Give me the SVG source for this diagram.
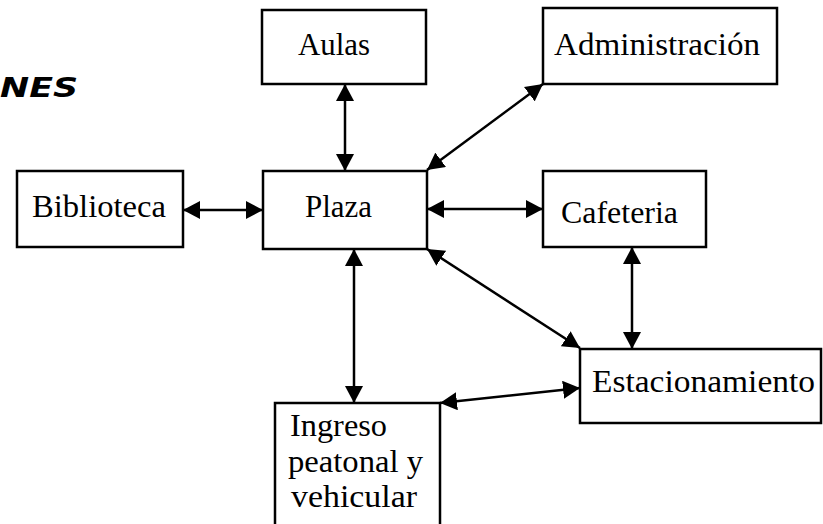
<svg xmlns="http://www.w3.org/2000/svg" width="823" height="524" viewBox="0 0 823 524">
<style>
.box{fill:#fff;stroke:#000;stroke-width:2.5}
.lbl{font-family:"Liberation Serif","Times New Roman",serif;font-size:31px;fill:#000}
.con{stroke:#000;stroke-width:2.5;fill:none;marker-start:url(#ah);marker-end:url(#ah)}
</style>
<defs>
<marker id="ah" viewBox="0 0 17 18" refX="17" refY="9" markerWidth="17" markerHeight="18" markerUnits="userSpaceOnUse" orient="auto-start-reverse">
<path d="M0,0 L17,9 L0,18 z" fill="#000"/>
</marker>
</defs>
<rect width="823" height="524" fill="#fff"/>
<text x="0" y="97" font-family="DejaVu Sans, sans-serif" font-weight="bold" font-style="italic" font-size="26" textLength="78" lengthAdjust="spacingAndGlyphs">NES</text>
<g id="connectors">
<line class="con" x1="345" y1="84" x2="345" y2="171"/>
<line class="con" x1="543" y1="84" x2="427" y2="170"/>
<line class="con" x1="183" y1="210" x2="263" y2="210"/>
<line class="con" x1="427" y1="209" x2="543" y2="209"/>
<line class="con" x1="354" y1="249" x2="354" y2="403"/>
<line class="con" x1="427" y1="249" x2="580" y2="348"/>
<line class="con" x1="632" y1="247" x2="632" y2="349"/>
<line class="con" x1="440" y1="403" x2="580" y2="388"/>
</g>
<g id="aulas"><rect class="box" x="262" y="10" width="164" height="74"/><text class="lbl" x="298" y="55" textLength="72" lengthAdjust="spacingAndGlyphs">Aulas</text></g>
<g id="administracion"><rect class="box" x="543" y="8" width="234" height="76"/><text class="lbl" x="554" y="55" textLength="206" lengthAdjust="spacingAndGlyphs">Administración</text></g>
<g id="biblioteca"><rect class="box" x="17" y="171" width="166" height="76"/><text class="lbl" x="32" y="217" textLength="134" lengthAdjust="spacingAndGlyphs">Biblioteca</text></g>
<g id="plaza"><rect class="box" x="263" y="171" width="164" height="78"/><text class="lbl" x="305" y="217" textLength="67" lengthAdjust="spacingAndGlyphs">Plaza</text></g>
<g id="cafeteria"><rect class="box" x="543" y="171" width="163" height="76"/><text class="lbl" x="561" y="223" textLength="117" lengthAdjust="spacingAndGlyphs">Cafeteria</text></g>
<g id="estacionamiento"><rect class="box" x="580" y="349" width="241" height="74"/><text class="lbl" x="592" y="392" textLength="223" lengthAdjust="spacingAndGlyphs">Estacionamiento</text></g>
<g id="ingreso"><rect class="box" x="275" y="403" width="165" height="130"/>
<text class="lbl" x="290" y="436" textLength="97" lengthAdjust="spacingAndGlyphs">Ingreso</text>
<text class="lbl" x="288" y="472" textLength="135" lengthAdjust="spacingAndGlyphs">peatonal y</text>
<text class="lbl" x="291" y="507" textLength="126" lengthAdjust="spacingAndGlyphs">vehicular</text></g>
</svg>
